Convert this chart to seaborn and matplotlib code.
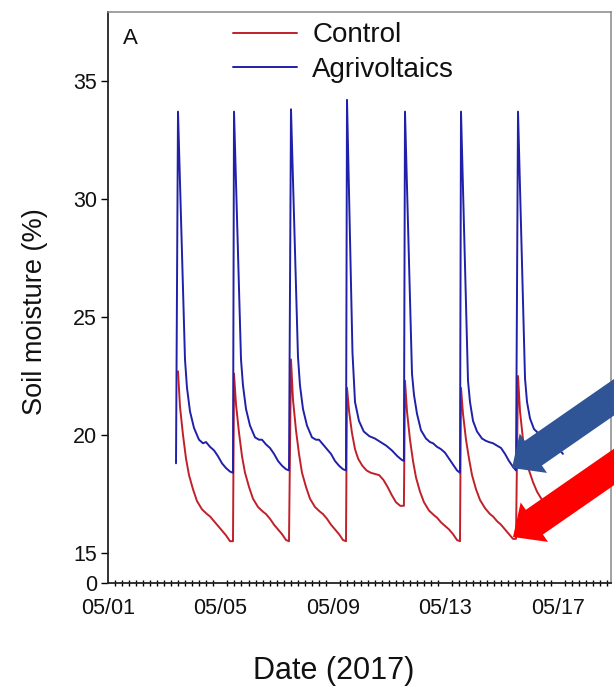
import numpy as np
import pandas as pd
import matplotlib
matplotlib.use("Agg")
import matplotlib.pyplot as plt
import matplotlib.dates as mdates
from matplotlib.patches import FancyArrow
import seaborn as sns

# ---------------- data (days after 2017-05-01 00:00, soil moisture %) ----------------
series_names = ["Control", "Agrivoltaics"]
series_colors = ["#c0202a", "#2020a8"]

control_days = [
    2.491, 2.562, 2.669, 2.776, 2.883, 3.025, 3.167, 3.345, 3.523, 3.630, 3.772, 3.915, 4.057, 4.199, 4.342, 4.448,
    4.484, 4.555, 4.662, 4.769, 4.876, 5.018, 5.160, 5.338, 5.516, 5.623, 5.765, 5.908, 6.050, 6.192, 6.335, 6.441,
    6.512, 6.583, 6.690, 6.797, 6.904, 7.046, 7.188, 7.366, 7.544, 7.651, 7.793, 7.936, 8.078, 8.220, 8.363, 8.469,
    8.505, 8.580, 8.680, 8.790, 8.900, 9.050, 9.200, 9.350, 9.500, 9.650, 9.800, 9.950, 10.100, 10.250, 10.400, 10.530,
    10.569, 10.640, 10.747, 10.854, 10.961, 11.103, 11.245, 11.423, 11.601, 11.708, 11.850, 11.993, 12.135, 12.277, 12.420, 12.526,
    12.562, 12.633, 12.740, 12.847, 12.954, 13.096, 13.238, 13.416, 13.594, 13.701, 13.843, 13.986, 14.128, 14.270, 14.413, 14.519,
    14.591, 14.662, 14.769, 14.876, 14.983, 15.125, 15.267, 15.445, 15.623, 15.730, 15.872, 16.015, 16.190,
]
control_values = [
    22.7, 21.2, 20.0, 19.0, 18.3, 17.7, 17.2, 16.85, 16.65, 16.55, 16.35, 16.15, 15.95, 15.75, 15.5, 15.5,
    22.6, 21.3, 20.1, 19.1, 18.4, 17.8, 17.3, 16.95, 16.75, 16.65, 16.45, 16.2, 16.0, 15.8, 15.55, 15.5,
    23.2, 21.5, 20.2, 19.2, 18.4, 17.8, 17.3, 16.95, 16.75, 16.65, 16.45, 16.2, 16.0, 15.8, 15.55, 15.5,
    22.0, 21.0, 20.1, 19.4, 19.0, 18.7, 18.5, 18.4, 18.35, 18.3, 18.1, 17.8, 17.45, 17.15, 17.0, 17.0,
    22.3, 21.0, 19.8, 18.9, 18.2, 17.6, 17.15, 16.8, 16.6, 16.5, 16.3, 16.15, 16.0, 15.8, 15.55, 15.5,
    22.0, 20.9, 19.8, 19.0, 18.3, 17.7, 17.25, 16.9, 16.65, 16.55, 16.35, 16.2, 16.0, 15.8, 15.6, 15.6,
    22.5, 21.0, 19.8, 19.0, 18.5, 18.0, 17.6, 17.25, 17.0, 16.9, 16.75, 16.6, 16.45,
]

agri_days = [
    2.420,
    2.491, 2.740, 2.811, 2.918, 3.060, 3.238, 3.381, 3.488, 3.630, 3.772, 3.915, 4.057, 4.199, 4.342, 4.448,
    4.484, 4.733, 4.804, 4.911, 5.053, 5.231, 5.374, 5.481, 5.623, 5.765, 5.908, 6.050, 6.192, 6.335, 6.441,
    6.512, 6.761, 6.832, 6.939, 7.081, 7.259, 7.402, 7.509, 7.651, 7.793, 7.936, 8.078, 8.220, 8.363, 8.469,
    8.505, 8.700, 8.790, 8.930, 9.100, 9.300, 9.500, 9.700, 9.900, 10.100, 10.300, 10.450, 10.530,
    10.569, 10.818, 10.889, 10.996, 11.138, 11.316, 11.459, 11.566, 11.708, 11.850, 11.993, 12.135, 12.277, 12.420, 12.526,
    12.562, 12.811, 12.882, 12.989, 13.131, 13.309, 13.452, 13.559, 13.701, 13.843, 13.986, 14.128, 14.270, 14.413, 14.519,
    14.591, 14.840, 14.911, 15.018, 15.160, 15.338, 15.481, 15.588, 15.730, 15.872, 16.015, 16.190,
]
agri_values = [
    18.8,
    33.7, 23.2, 22.0, 21.0, 20.3, 19.8, 19.65, 19.7, 19.5, 19.35, 19.1, 18.8, 18.6, 18.45, 18.4,
    33.7, 23.2, 22.1, 21.1, 20.4, 19.9, 19.8, 19.8, 19.6, 19.45, 19.2, 18.9, 18.7, 18.55, 18.5,
    33.8, 23.3, 22.1, 21.1, 20.4, 19.9, 19.8, 19.8, 19.6, 19.4, 19.2, 18.9, 18.7, 18.55, 18.5,
    34.2, 23.5, 21.4, 20.6, 20.15, 19.95, 19.85, 19.7, 19.55, 19.35, 19.1, 18.95, 18.9,
    33.7, 22.6, 21.7, 20.9, 20.2, 19.85, 19.7, 19.65, 19.5, 19.4, 19.25, 19.0, 18.75, 18.5, 18.4,
    33.7, 22.3, 21.4, 20.6, 20.15, 19.85, 19.75, 19.7, 19.65, 19.55, 19.45, 19.2, 18.9, 18.65, 18.5,
    33.7, 22.4, 21.4, 20.7, 20.25, 20.05, 19.95, 19.9, 19.8, 19.6, 19.45, 19.2,
]

ytick_values = [0, 15, 20, 25, 30, 35]
xtick_dates = ["2017-05-01", "2017-05-05", "2017-05-09", "2017-05-13", "2017-05-17"]
start = pd.Timestamp("2017-05-01")

# ---------------- style ----------------
sns.set_theme(style="white")
plt.rcParams["font.family"] = ["Liberation Sans", "DejaVu Sans"]

frames = []
for name, days, vals in [(series_names[0], control_days, control_values),
                         (series_names[1], agri_days, agri_values)]:
    frames.append(pd.DataFrame({
        "date": start + pd.to_timedelta(days, unit="D"),
        "moisture": vals,
        "treatment": name,
    }))
df = pd.concat(frames, ignore_index=True)

W, H = 614, 692
fig = plt.figure(figsize=(W / 100, H / 100), dpi=100)
ax = fig.add_axes([108 / W, (H - 583) / H, (611 - 108) / W, (583 - 12) / H])

sns.lineplot(data=df, x="date", y="moisture", hue="treatment",
             hue_order=series_names,
             palette=dict(zip(series_names, series_colors)),
             estimator=None, errorbar=None, sort=False,
             linewidth=1.4, ax=ax)

# broken y axis: "0" drawn at the bottom, then 15..35
ymin, ymax = 13.73, 37.92
ax.set_ylim(ymin, ymax)
ax.set_yticks([ymin] + ytick_values[1:])
ax.set_yticklabels([str(v) for v in ytick_values])

ax.set_xlim(start, start + pd.Timedelta(days=17.9))
ax.set_xticks(pd.to_datetime(xtick_dates))
ax.xaxis.set_major_formatter(mdates.DateFormatter("%m/%d"))
ax.xaxis.set_minor_locator(mdates.HourLocator(byhour=[0, 6, 12, 18]))

ax.tick_params(axis="x", which="major", direction="inout", length=12, width=1.2,
               labelsize=15.5, pad=5, colors="black")
ax.tick_params(axis="x", which="minor", direction="inout", length=4.5, width=1.0,
               bottom=True, colors="black")
ax.tick_params(axis="y", which="major", direction="out", length=5, width=1.0,
               labelsize=15.5, pad=3, left=True, colors="black")
for lab in ax.get_xticklabels() + ax.get_yticklabels():
    lab.set_color("#111111")

for s in ["left", "bottom"]:
    ax.spines[s].set_color("#222222")
    ax.spines[s].set_linewidth(1.3)
for s in ["top", "right"]:
    ax.spines[s].set_color("#888888")
    ax.spines[s].set_linewidth(1.1)

ax.set_xlabel("Date (2017)", fontsize=22, color="#111111")
ax.set_ylabel("Soil moisture (%)", fontsize=19.5, color="#111111")
ax.xaxis.set_label_coords(0.449, -0.127)
ax.yaxis.set_label_coords(-0.12, 0.476)

handles, labels = ax.get_legend_handles_labels()
leg = ax.legend(handles, labels, loc="upper left", bbox_to_anchor=(0.2485, 0.982),
                frameon=False, fontsize=20, handlelength=2.3, handletextpad=0.55,
                labelspacing=0.3, borderpad=0, borderaxespad=0)
for t in leg.get_texts():
    t.set_color("#111111")

ax.text(0.03, 0.953, "A", transform=ax.transAxes, fontsize=16, ha="left",
        va="center", color="#111111")

# annotation arrows (figure inches)
ux, uy = 0.822, 0.570
for tip_px, col in [((512, 468), "#2f5597"), ((513, 537), "#ff0000")]:
    tx, ty = tip_px[0] / 100, (H - tip_px[1]) / 100
    tail_x, tail_y = tx + 1.8 * ux, ty + 1.8 * uy
    arr = FancyArrow(tail_x, tail_y, tx - tail_x, ty - tail_y, width=0.30,
                     head_width=0.48, head_length=0.26, length_includes_head=True,
                     color=col, lw=0, transform=fig.dpi_scale_trans, zorder=10)
    fig.add_artist(arr)

fig.savefig("out.png", dpi=100)
